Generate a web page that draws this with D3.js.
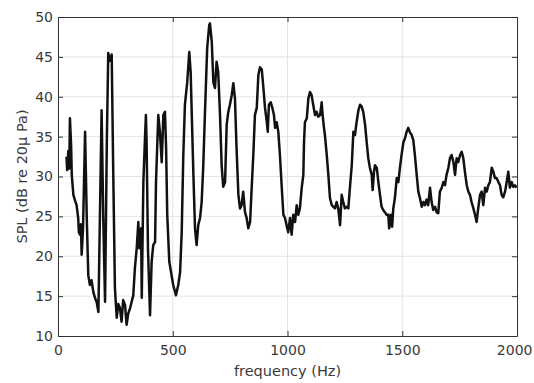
<!DOCTYPE html>
<html>
<head>
<meta charset="utf-8">
<script src="https://cdn.jsdelivr.net/npm/d3@7"></script>
<style>
  body { margin: 0; background: #fff; }
  svg { display: block; }
  text { font-family: "DejaVu Sans", sans-serif; }
</style>
</head>
<body>
<div class="chart"></div>
<script>
//Tick values
var xTicks = [0, 500, 1000, 1500, 2000];
var yTicks = [10, 15, 20, 25, 30, 35, 40, 45, 50];

var freq = [37, 40, 45, 49, 52, 57, 60, 67, 74, 81, 88, 91, 96, 100, 103, 109, 118, 125, 132, 139,
  146, 154, 161, 169, 176, 190, 197, 205, 213, 219, 226, 234, 240, 248, 256, 263, 270, 277, 284, 292,
  299, 306, 314, 321, 328, 335, 343, 350, 354, 362, 365, 372, 379, 383, 386, 392, 401, 408, 415, 423,
  427, 437, 444, 452, 459, 466, 471, 476, 485, 495, 502, 514, 524, 532, 539, 546, 553, 563, 572, 578,
  583, 590, 597, 604, 611, 619, 626, 633, 640, 650, 659, 662, 670, 677, 684, 691, 698, 706, 713, 720,
  728, 735, 742, 749, 757, 764, 771, 778, 786, 793, 800, 807, 815, 822, 829, 837, 844, 851, 858, 866,
  873, 880, 888, 895, 902, 910, 914, 919, 927, 934, 941, 946, 953, 960, 967, 975, 982, 989, 996, 1003,
  1011, 1018, 1025, 1033, 1040, 1047, 1054, 1062, 1069, 1072, 1076, 1084, 1091, 1098, 1105, 1112, 1120, 1127, 1134, 1142,
  1149, 1153, 1159, 1163, 1171, 1178, 1185, 1193, 1200, 1207, 1214, 1221, 1229, 1236, 1243, 1250, 1258, 1265, 1272, 1280,
  1287, 1294, 1301, 1309, 1316, 1323, 1330, 1338, 1345, 1352, 1359, 1367, 1371, 1377, 1381, 1389, 1396, 1403, 1410, 1417,
  1425, 1432, 1439, 1443, 1450, 1456, 1461, 1468, 1476, 1483, 1490, 1497, 1505, 1512, 1519, 1526, 1534, 1541, 1548, 1555,
  1563, 1570, 1577, 1585, 1592, 1599, 1606, 1613, 1621, 1628, 1635, 1643, 1650, 1657, 1664, 1672, 1679, 1686, 1693, 1701,
  1708, 1715, 1723, 1730, 1737, 1744, 1752, 1759, 1766, 1773, 1781, 1788, 1795, 1802, 1810, 1817, 1824, 1831, 1839, 1846,
  1853, 1861, 1868, 1875, 1882, 1890, 1897, 1904, 1911, 1919, 1926, 1933, 1940, 1948, 1955, 1962, 1969, 1977, 1984, 1991, 1998];
var spl = [32.5, 30.8, 33.2, 31.0, 37.3, 34.0, 30.2, 27.7, 27.0, 26.4, 24.8, 23.0, 22.7, 24.0, 20.2, 23.5, 35.6, 25.2, 17.6, 16.4,
  17.0, 15.5, 14.8, 14.2, 13.0, 38.3, 25.0, 14.3, 35.0, 45.5, 44.5, 45.3, 32.0, 16.0, 12.3, 14.0, 13.5, 11.8, 14.5, 13.9,
  11.4, 12.8, 13.5, 14.3, 15.1, 18.5, 21.0, 24.3, 21.0, 23.5, 14.8, 29.3, 34.8, 37.7, 34.3, 21.0, 12.6, 19.3, 21.4, 21.8,
  29.3, 37.7, 35.6, 31.8, 37.7, 38.1, 33.6, 25.2, 19.3, 17.6, 16.4, 15.1, 16.4, 18.0, 23.0, 32.7, 39.0, 41.8, 45.6, 43.1,
  37.7, 30.2, 23.5, 21.4, 23.9, 24.8, 26.8, 31.4, 37.7, 46.1, 49.0, 49.2, 46.9, 41.8, 41.1, 44.4, 43.1, 37.7, 31.4, 28.7,
  29.3, 36.5, 38.1, 39.0, 40.2, 41.7, 39.8, 33.6, 27.7, 26.0, 26.4, 28.1, 25.5, 24.8, 23.5, 24.3, 28.6, 32.7, 37.7, 38.6,
  42.7, 43.7, 43.4, 41.1, 38.6, 36.8, 35.6, 39.0, 39.3, 38.6, 37.7, 36.1, 36.8, 35.6, 32.7, 28.6, 25.2, 24.8, 23.9, 23.0,
  24.8, 22.7, 25.2, 24.3, 26.4, 25.2, 26.0, 28.6, 30.2, 34.3, 36.8, 37.3, 39.8, 40.6, 40.2, 39.0, 37.7, 38.1, 37.5, 37.7,
  39.3, 37.7, 36.1, 35.2, 32.7, 30.2, 27.3, 26.4, 26.2, 26.0, 26.8, 26.0, 23.9, 27.7, 26.8, 26.0, 26.2, 26.0, 28.6, 31.4,
  35.6, 35.2, 36.8, 38.3, 39.0, 38.8, 38.1, 36.5, 34.3, 32.3, 31.1, 30.2, 28.3, 30.6, 31.4, 31.1, 29.3, 27.7, 26.2, 25.8,
  25.5, 25.2, 25.2, 23.5, 25.2, 23.7, 26.0, 27.3, 29.8, 29.3, 31.1, 32.7, 34.3, 34.8, 35.6, 36.1, 35.5, 35.2, 34.6, 32.7,
  30.2, 28.1, 27.3, 26.2, 26.8, 26.4, 27.1, 26.4, 28.6, 26.8, 25.8, 26.2, 25.5, 25.4, 28.1, 28.6, 29.3, 28.9, 30.2, 31.1,
  32.3, 32.7, 31.8, 30.2, 32.3, 31.8, 32.7, 33.1, 32.3, 30.6, 28.9, 28.1, 27.7, 26.8, 26.0, 25.2, 24.3, 26.0, 27.7, 28.1,
  26.4, 28.6, 28.1, 28.9, 29.3, 31.1, 30.6, 29.8, 29.8, 29.3, 28.9, 27.7, 27.4, 28.1, 29.3, 30.6, 28.6, 29.3, 28.7, 28.9, 28.6];

var w = 534;
var h = 383;
var margin = {top: 17, right: 17, bottom: 47, left: 58};

var svg = d3.select(".chart")
    .append("svg")
    .attr("width", w)
    .attr("height", h);

var xScale = d3.scaleLinear()
    .domain([0, 2000])
    .range([margin.left, w - margin.right]);

var yScale = d3.scaleLinear()
    .domain([10, 50])
    .range([h - margin.bottom, margin.top]);

var x0 = margin.left, x1 = w - margin.right;
var y0 = h - margin.bottom, y1 = margin.top;

//Grid
svg.append("g").selectAll("line")
    .data(xTicks.slice(1, -1))
    .enter().append("line")
    .attr("x1", (d) => xScale(d)).attr("x2", (d) => xScale(d))
    .attr("y1", y0).attr("y2", y1)
    .attr("stroke", "#e4e4e4").attr("stroke-width", 1);
svg.append("g").selectAll("line")
    .data(yTicks.slice(1, -1))
    .enter().append("line")
    .attr("x1", x0).attr("x2", x1)
    .attr("y1", (d) => yScale(d)).attr("y2", (d) => yScale(d))
    .attr("stroke", "#e4e4e4").attr("stroke-width", 1);

//Curve
var line = d3.line()
    .x((d, i) => xScale(freq[i]))
    .y((d, i) => yScale(spl[i]));

svg.append("path")
    .datum(spl)
    .attr("d", line)
    .attr("fill", "none")
    .attr("stroke", "#111")
    .attr("stroke-width", 2.5)
    .attr("stroke-linejoin", "round");

//Axes (inside ticks, box on)
var xAxis = d3.axisBottom(xScale).tickValues(xTicks).tickFormat(d3.format("d"))
    .tickSize(-5).tickPadding(9).tickSizeOuter(0);
svg.append("g")
    .attr("transform", "translate(0," + y0 + ")")
    .call(xAxis);
var xTop = d3.axisTop(xScale).tickValues(xTicks).tickSize(-5).tickFormat("").tickSizeOuter(0);
svg.append("g")
    .attr("transform", "translate(0," + y1 + ")")
    .call(xTop);
var yAxis = d3.axisLeft(yScale).tickValues(yTicks).tickSize(-5).tickPadding(5).tickSizeOuter(0);
svg.append("g")
    .attr("transform", "translate(" + x0 + ",0)")
    .call(yAxis);
var yRight = d3.axisRight(yScale).tickValues(yTicks).tickSize(-5).tickFormat("").tickSizeOuter(0);
svg.append("g")
    .attr("transform", "translate(" + x1 + ",0)")
    .call(yRight);

svg.selectAll(".domain, .tick line").attr("stroke", "#333");
svg.selectAll(".tick text")
    .attr("fill", "#3a3a3a")
    .style("font-size", "14px")
    .style("font-family", "'DejaVu Sans', sans-serif");

//Keep the last x label inside the window
svg.selectAll(".tick text")
    .filter((d) => d === 2000)
    .attr("text-anchor", "end")
    .attr("dx", 15);

//Labels
svg.append("text")
    .attr("x", (x0 + x1) / 2)
    .attr("y", 376)
    .attr("text-anchor", "middle")
    .attr("fill", "#3a3a3a")
    .style("font-size", "14.5px")
    .text("frequency (Hz)");
svg.append("text")
    .attr("transform", "rotate(-90 27 " + (y0 + y1) / 2 + ")")
    .attr("x", 27)
    .attr("y", (y0 + y1) / 2)
    .attr("text-anchor", "middle")
    .attr("fill", "#3a3a3a")
    .style("font-size", "14.5px")
    .text("SPL (dB re 20\u03bc Pa)");
</script>
</body>
</html>
